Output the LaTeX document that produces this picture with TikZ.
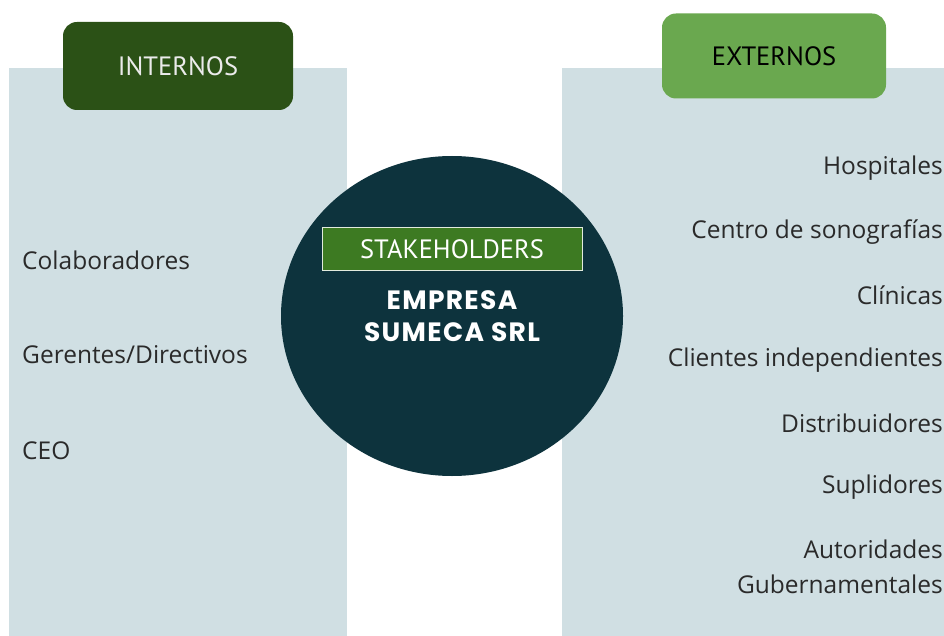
\documentclass[tikz,border=0pt]{standalone}
\usepackage{fontspec}
\usetikzlibrary{shapes.geometric}
\setmainfont{Open Sans}
\newfontfamily\headfont{PT Sans}
\newfontfamily\boldfont[LetterSpace=5]{Poppins}
\definecolor{panel}{HTML}{D0DFE3}
\definecolor{circ}{HTML}{0D333D}
\definecolor{darkg}{HTML}{2B5116}
\definecolor{lightg}{HTML}{6AA84F}
\definecolor{midg}{HTML}{3D7A22}
\definecolor{txt}{HTML}{2A2A2A}
\begin{document}
\begin{tikzpicture}[x=1pt,y=-1pt,
  lbl/.style={font=\fontsize{24.5}{26}\selectfont, text=txt, inner sep=0pt},
  lblR/.style={lbl, anchor=east},
  lblL/.style={lbl, anchor=west},
  head/.style={font=\headfont\fontsize{26.5}{28}\selectfont, inner sep=0pt}]
\useasboundingbox (0,0) rectangle (944,636);
\fill[panel] (9,68) rectangle (347,636);
\fill[panel] (562,68) rectangle (944,636);
\node[fill=darkg, rounded corners=14pt, minimum width=230pt, minimum height=88pt, inner sep=0pt] (int) at (178,66) {};
\node[head, text=white!92!black] at (int.center) {INTERNOS};
\node[fill=lightg, rounded corners=14pt, minimum width=224pt, minimum height=85pt, inner sep=0pt] (ext) at (774,56) {};
\node[head, text=black] at (ext.center) {EXTERNOS};
\node[ellipse, fill=circ, minimum width=342pt, minimum height=320pt, inner sep=0pt] (c) at (452,316) {};
\node[fill=midg, draw=white!85!midg, line width=1pt, minimum width=260pt, minimum height=42pt, inner sep=0pt, font=\headfont\fontsize{26.5}{28}\selectfont, text=white] (stk) at (452,249) {STAKEHOLDERS};
\node[font=\boldfont\bfseries\fontsize{26.5}{32}\selectfont, text=white, align=center, inner sep=0pt] (emp) at (452,316) {EMPRESA\\SUMECA SRL};
\node[lblL] (l1) at (22,260) {Colaboradores};
\node[lblL] (l2) at (22,355) {Gerentes/Directivos};
\node[lblL] (l3) at (22,451) {CEO};
\node[lblR] (r1) at (943,168) {Hospitales};
\node[lblR] (r2) at (943,232) {Centro de sonografías};
\node[lblR] (r3) at (943,295) {Clínicas};
\node[lblR] (r4) at (943,360) {Clientes independientes};
\node[lblR] (r5) at (943,423) {Distribuidores};
\node[lblR] (r6) at (943,487) {Suplidores};
\node[lblR, align=right, font=\fontsize{24.5}{35}\selectfont] (r7) at (943,567) {Autoridades\\Gubernamentales};
\end{tikzpicture}
\end{document}
